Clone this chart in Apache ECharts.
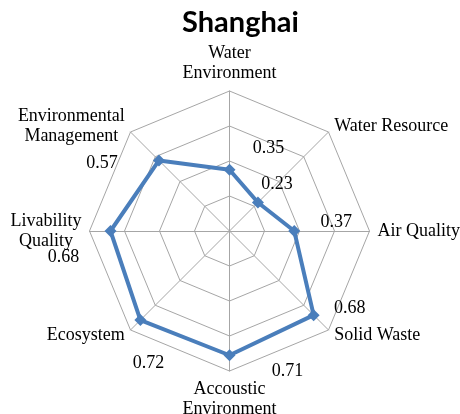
<!DOCTYPE html>
<html>
<head>
<meta charset="utf-8">
<script src="https://cdn.jsdelivr.net/npm/echarts@6/dist/echarts.min.js"></script>
<style>
  html, body { margin: 0; padding: 0; background: #fff; }
  #chart { width: 460px; height: 414px; }
</style>
</head>
<body>
<div id="chart"></div>
<script>
const cityName = 'Shanghai';

// Indicators in clockwise order, starting at the top
const categories = [
  'Water\nEnvironment',
  'Water Resource',
  'Air Quality',
  'Solid Waste',
  'Accoustic\nEnvironment',
  'Ecosystem',
  'Livability\nQuality',
  'Environmental\nManagement'
];
const values = [0.35, 0.23, 0.37, 0.68, 0.71, 0.72, 0.68, 0.57];
const axisMax = 0.8;
const ringCount = 4;

// Value label nudges (dx, dy) from each vertex, same order as categories
const labelOffsets = [[39, -21], [19, -18], [42, -9], [36, -7], [58, 16], [8, 43], [-47, 26], [-57, 3]];

const serif = '"Liberation Serif", "Times New Roman", serif';
const lineBlue = '#4a7ebb';
const gridGrey = '#a6a6a6';

// ECharts places radar indicators counter-clockwise, so keep the first one
// and walk the rest backwards to get a clockwise layout.
const order = [0].concat(categories.map((_, i) => i).slice(1).reverse());
const pick = arr => order.map(i => arr[i]);

const indicator = pick(categories).map(name => ({ name: name, min: 0, max: axisMax }));

// One invisible polygon per category that only carries that category's value label
const labelItems = categories.map((_, k) => ({
  value: pick(values.map((v, i) => (i === k ? v : 0))),
  label: { offset: labelOffsets[k] }
}));

const chart = echarts.init(document.getElementById('chart'), null, { renderer: 'canvas' });
chart.setOption({
  animation: false,
  backgroundColor: '#fff',
  title: {
    text: cityName,
    left: 182,
    top: 8,
    padding: 0,
    textStyle: { fontFamily: 'Lato, "Liberation Sans", sans-serif', fontWeight: 'bold', fontSize: 29, color: '#000' }
  },
  radar: {
    center: [229.5, 231],
    radius: 140,
    startAngle: 90,
    shape: 'polygon',
    splitNumber: ringCount,
    nameGap: 8,
    indicator: indicator,
    axisName: {
      color: '#000',
      fontFamily: serif,
      fontSize: 18,
      lineHeight: 20,
      formatter: name => name.split('\n').map(l => '{c|' + l + '}').join('\n'),
      rich: { c: { align: 'center', color: '#000', fontFamily: serif, fontSize: 18, lineHeight: 20 } }
    },
    axisLine: { lineStyle: { color: gridGrey, width: 1 } },
    splitLine: { lineStyle: { color: gridGrey, width: 1 } },
    splitArea: { show: false },
    axisTick: { show: false },
    axisLabel: { show: false }
  },
  series: [
    {
      type: 'radar',
      silent: true,
      symbol: 'diamond',
      symbolSize: 12,
      lineStyle: { color: lineBlue, width: 4 },
      itemStyle: { color: lineBlue },
      data: [{ value: pick(values), name: cityName }]
    },
    {
      type: 'radar',
      silent: true,
      symbol: 'circle',
      symbolSize: 1,
      lineStyle: { width: 0, opacity: 0 },
      itemStyle: { color: 'rgba(0,0,0,0)' },
      label: {
        show: true,
        position: 'inside',
        color: '#000',
        fontFamily: serif,
        fontSize: 18,
        formatter: p => (typeof p.value === 'number' && p.value > 0 ? p.value.toFixed(2) : '')
      },
      data: labelItems
    }
  ]
});
</script>
</body>
</html>
